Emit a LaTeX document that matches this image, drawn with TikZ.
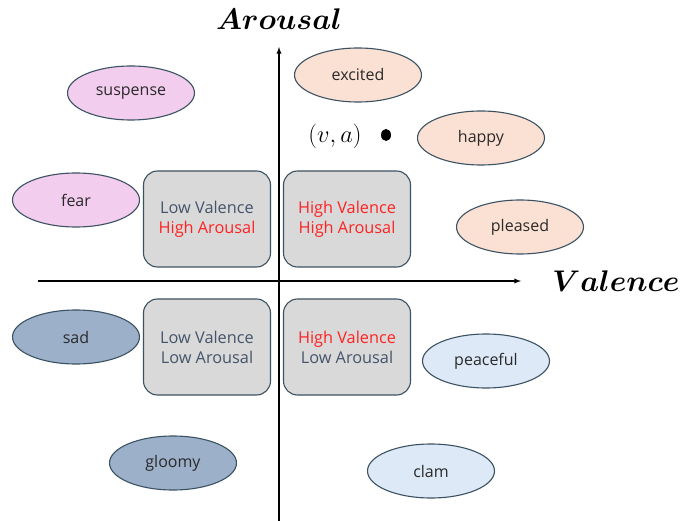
\documentclass[tikz,border=0pt]{standalone}
\usepackage{fontspec}
\setsansfont{Open Sans}
\usetikzlibrary{shapes.geometric}
\definecolor{edgeslate}{HTML}{3B5262}
\definecolor{moodtext}{HTML}{2A2A2A}
\definecolor{quadtext}{HTML}{44546A}
\definecolor{quadred}{HTML}{FF2222}
\definecolor{quadfill}{HTML}{D9D9D9}
\definecolor{pinkfill}{HTML}{F2CDEE}
\definecolor{peachfill}{HTML}{FBE1D3}
\definecolor{steelfill}{HTML}{9CB0C9}
\definecolor{skyfill}{HTML}{DDE9F6}
\newcommand\hi[1]{\textcolor{quadred}{#1}}
\newcommand\axistext[1]{\scalebox{1.2}{$#1$}}
\begin{document}
\begin{tikzpicture}[>=latex,x=1pt,y=-1pt,
  mood/.style={ellipse,draw=edgeslate,line width=1.1pt,minimum width=127pt,
    minimum height=54pt,inner sep=0pt,text=moodtext,
    font=\sffamily\fontsize{16}{18}\selectfont},
  quad/.style={draw=edgeslate,line width=1.1pt,fill=quadfill,rounded corners=14pt,
    minimum width=127pt,minimum height=96pt,align=center,text=quadtext,
    font=\sffamily\fontsize{16.3}{20}\selectfont},
  axislabel/.style={font=\boldmath\fontsize{24.88}{28}\selectfont}]
\useasboundingbox (0,0) rectangle (688,521);
% axes
\coordinate (vlow) at (279,521);
\coordinate (vtop) at (279,47);
\coordinate (hleft) at (38,281);
\coordinate (hright) at (521,281);
\draw[->,line width=1.3pt] (vlow) -- (vtop);
\draw[->,line width=1.3pt] (hleft) -- (hright);
\node[axislabel] (arousal) at (279,19) {\axistext{Arousal}};
\node[axislabel] (valence) at (616,281) {\axistext{Valence}};
% quadrants
\node[quad] (lvha) at (207,219) {Low Valence\\\hi{High Arousal}};
\node[quad] (hvha) at (347,219) {\hi{High Valence}\\\hi{High Arousal}};
\node[quad] (lvla) at (207,347) {Low Valence\\Low Arousal};
\node[quad] (hvla) at (347,347) {\hi{High Valence}\\Low Arousal};
% emotions
\node[mood,fill=pinkfill] (suspense) at (131,93) {suspense};
\node[mood,fill=pinkfill] (fear) at (76,200) {fear};
\node[mood,fill=peachfill] (excited) at (358,75) {excited};
\node[mood,fill=peachfill] (happy) at (481,138) {happy};
\node[mood,fill=peachfill] (pleased) at (520,227) {pleased};
\node[mood,fill=steelfill] (sad) at (76,337) {sad};
\node[mood,fill=steelfill] (gloomy) at (173,463) {gloomy};
\node[mood,fill=skyfill] (peaceful) at (486,361) {peaceful};
\node[mood,fill=skyfill] (clam) at (431,471) {clam};
% sample point
\node[font=\fontsize{20.74}{24}\selectfont] (va) at (335,136) {\scalebox{1.18}{$(v,a)$}};
\fill (386,135) ellipse (5pt and 6pt);
\end{tikzpicture}
\end{document}
